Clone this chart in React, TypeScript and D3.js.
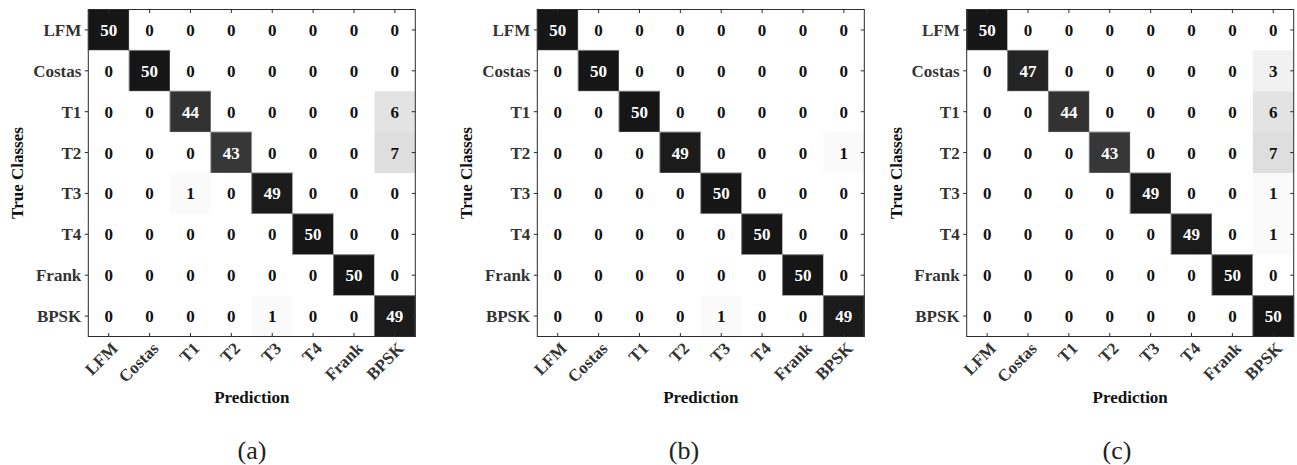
import React from "react";
import * as d3 from "d3";

const classes = ["LFM", "Costas", "T1", "T2", "T3", "T4", "Frank", "BPSK"];

const matrixA = [
  [50, 0, 0, 0, 0, 0, 0, 0],
  [0, 50, 0, 0, 0, 0, 0, 0],
  [0, 0, 44, 0, 0, 0, 0, 6],
  [0, 0, 0, 43, 0, 0, 0, 7],
  [0, 0, 1, 0, 49, 0, 0, 0],
  [0, 0, 0, 0, 0, 50, 0, 0],
  [0, 0, 0, 0, 0, 0, 50, 0],
  [0, 0, 0, 0, 1, 0, 0, 49],
];

const matrixB = [
  [50, 0, 0, 0, 0, 0, 0, 0],
  [0, 50, 0, 0, 0, 0, 0, 0],
  [0, 0, 50, 0, 0, 0, 0, 0],
  [0, 0, 0, 49, 0, 0, 0, 1],
  [0, 0, 0, 0, 50, 0, 0, 0],
  [0, 0, 0, 0, 0, 50, 0, 0],
  [0, 0, 0, 0, 0, 0, 50, 0],
  [0, 0, 0, 0, 1, 0, 0, 49],
];

const matrixC = [
  [50, 0, 0, 0, 0, 0, 0, 0],
  [0, 47, 0, 0, 0, 0, 0, 3],
  [0, 0, 44, 0, 0, 0, 0, 6],
  [0, 0, 0, 43, 0, 0, 0, 7],
  [0, 0, 0, 0, 49, 0, 0, 1],
  [0, 0, 0, 0, 0, 49, 0, 1],
  [0, 0, 0, 0, 0, 0, 50, 0],
  [0, 0, 0, 0, 0, 0, 0, 50],
];

const captions = ["(a)", "(b)", "(c)"];
const matrices = [matrixA, matrixB, matrixC];

// layout
const W = 1297;
const H = 465;
const panelLefts = [88.3, 537.3, 966.7];
const captionX = [252, 684, 1117];
const TOP = 9.5;
const SIZE = 327;
const FONT = "'Liberation Serif', 'Times New Roman', serif";
const AXIS_COLOR = "#2b2b2b";
const LABEL_COLOR = "#333333";

const color = d3.scaleLinear<string>().domain([0, 50]).range(["#ffffff", "#161616"]);

function Panel({ left, data, caption, capX }: { left: number; data: number[][]; caption: string; capX: number }) {
  const x = d3.scaleBand().domain(classes).range([left, left + SIZE]);
  const y = d3.scaleBand().domain(classes).range([TOP, TOP + SIZE]);
  const bw = x.bandwidth();
  const bh = y.bandwidth();
  const bottom = TOP + SIZE;
  const right = left + SIZE;
  const cells: React.ReactNode[] = [];
  const labels: React.ReactNode[] = [];
  data.forEach((row, i) => {
    row.forEach((v, j) => {
      const cx = x(classes[j])!;
      const cy = y(classes[i])!;
      cells.push(
        <rect
          key={`c${i}-${j}`}
          x={cx}
          y={cy}
          width={bw}
          height={bh}
          fill={color(v)}
          stroke={v >= 25 ? "#7a7a7a" : "none"}
          strokeWidth={1}
        />
      );
      labels.push(
        <text
          key={`t${i}-${j}`}
          x={cx + bw / 2}
          y={cy + bh / 2}
          dy="0.35em"
          textAnchor="middle"
          fontFamily={FONT}
          fontWeight="bold"
          fontSize={17}
          fill={v >= 25 ? "#ffffff" : "#111111"}
        >
          {v}
        </text>
      );
    });
  });
  return (
    <g>
      {cells}
      {labels}
      {/* frame */}
      <rect x={left} y={TOP} width={SIZE} height={SIZE} fill="none" stroke={AXIS_COLOR} strokeWidth={1} />
      {/* ticks */}
      {classes.map((c) => {
        const cx = x(c)! + bw / 2;
        return (
          <g key={`xt${c}`}>
            <line x1={cx} x2={cx} y1={TOP} y2={TOP + 3.5} stroke={AXIS_COLOR} />
            <line x1={cx} x2={cx} y1={bottom} y2={bottom - 3.5} stroke={AXIS_COLOR} />
            <text
              transform={`translate(${cx + 10},${bottom + 13}) rotate(-45)`}
              textAnchor="end"
              fontFamily={FONT}
              fontWeight="bold"
              fontSize={17}
              fill={LABEL_COLOR}
            >
              {c}
            </text>
          </g>
        );
      })}
      {classes.map((c) => {
        const cy = y(c)! + bh / 2;
        return (
          <g key={`yt${c}`}>
            <line x1={left - 3.5} x2={left} y1={cy} y2={cy} stroke={AXIS_COLOR} />
            <line x1={right} x2={right - 3.5} y1={cy} y2={cy} stroke={AXIS_COLOR} />
            <text
              x={left - 7}
              y={cy}
              dy="0.35em"
              textAnchor="end"
              fontFamily={FONT}
              fontWeight="bold"
              fontSize={17}
              fill={LABEL_COLOR}
            >
              {c}
            </text>
          </g>
        );
      })}
      <text
        x={left + SIZE / 2}
        y={bottom + 66.5}
        textAnchor="middle"
        fontFamily={FONT}
        fontWeight="bold"
        fontSize={17}
        fill="#111"
      >
        Prediction
      </text>
      <text
        transform={`translate(${left - 65},${TOP + SIZE / 2}) rotate(-90)`}
        textAnchor="middle"
        fontFamily={FONT}
        fontWeight="bold"
        fontSize={17}
        fill="#111"
      >
        True Classes
      </text>
      <text x={capX} y={459} textAnchor="middle" fontFamily={FONT} fontSize={26} fill="#222">
        {caption}
      </text>
    </g>
  );
}

export default function App() {
  return (
    <svg width={W} height={H} style={{ position: "absolute", left: 0, top: 0, background: "#fff" }}>
      <rect x={0} y={0} width={W} height={H} fill="#fff" />
      {matrices.map((m, k) => (
        <Panel key={k} left={panelLefts[k]} data={m} caption={captions[k]} capX={captionX[k]} />
      ))}
    </svg>
  );
}
